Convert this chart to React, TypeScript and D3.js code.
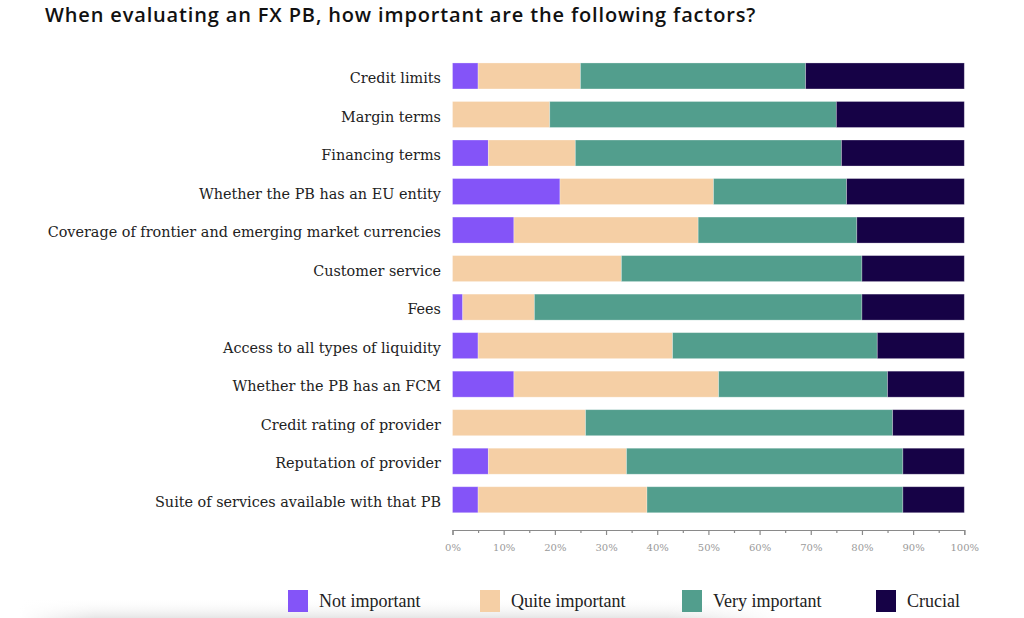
import React, { useEffect, useRef } from "react";
import * as d3 from "d3";

const title = "When evaluating an FX PB, how important are the following factors?";

const categories = [
  "Credit limits",
  "Margin terms",
  "Financing terms",
  "Whether the PB has an EU entity",
  "Coverage of frontier and emerging market currencies",
  "Customer service",
  "Fees",
  "Access to all types of liquidity",
  "Whether the PB has an FCM",
  "Credit rating of provider",
  "Reputation of provider",
  "Suite of services available with that PB",
];

const seriesNames = ["Not important", "Quite important", "Very important", "Crucial"];

const notImportant = [5, 0, 7, 21, 12, 0, 2, 5, 12, 0, 7, 5];
const quiteImportant = [20, 19, 17, 30, 36, 33, 14, 38, 40, 26, 27, 33];
const veryImportant = [44, 56, 52, 26, 31, 47, 64, 40, 33, 60, 54, 50];
const crucial = [31, 25, 24, 23, 21, 20, 20, 17, 15, 14, 12, 12];

const colors = ["#8454F8", "#F5CFA5", "#529E8D", "#160246"];

const majorTicks = [0, 10, 20, 30, 40, 50, 60, 70, 80, 90, 100];
const minorTicks = [5, 15, 25, 35, 45, 55, 65, 75, 85, 95];

const W = 1024;
const H = 618;

export default function App() {
  const axisRef = useRef<SVGGElement>(null);
  const minorRef = useRef<SVGGElement>(null);

  const x = d3.scaleLinear().domain([0, 100]).range([452.5, 964.3]);
  const y = d3
    .scaleBand<string>()
    .domain(categories)
    .range([56.7, 519.0])
    .paddingInner(0.325)
    .paddingOuter(0.1625);

  const table = categories.map((c, i) => ({
    category: c,
    "Not important": notImportant[i],
    "Quite important": quiteImportant[i],
    "Very important": veryImportant[i],
    Crucial: crucial[i],
  }));
  const stacked = d3.stack<any>().keys(seriesNames)(table);

  const axisY = 530;

  useEffect(() => {
    if (axisRef.current) {
      const axis = d3
        .axisBottom(x)
        .tickValues(majorTicks)
        .tickFormat((d) => `${d}%`)
        .tickSize(5)
        .tickSizeOuter(5)
        .tickPadding(9);
      const g = d3.select(axisRef.current);
      g.call(axis as any);
      g.select(".domain").attr("stroke", "#8a8a8a").attr("stroke-width", 1.2);
      g.selectAll(".tick line").attr("stroke", "#8a8a8a").attr("stroke-width", 1.2);
      g.selectAll(".tick text")
        .attr("fill", "#9a9a9a")
        .attr("font-size", 10)
        .attr("font-family", "'DejaVu Serif', serif");
    }
    if (minorRef.current) {
      const minor = d3
        .axisBottom(x)
        .tickValues(minorTicks)
        .tickFormat(() => "")
        .tickSize(3)
        .tickSizeOuter(0);
      const g2 = d3.select(minorRef.current);
      g2.call(minor as any);
      g2.select(".domain").remove();
      g2.selectAll(".tick line").attr("stroke", "#8a8a8a").attr("stroke-width", 1.2);
    }
  }, []);

  const legendX = [288, 480, 682, 876];

  return (
    <svg
      width={W}
      height={H}
      style={{ position: "absolute", left: 0, top: 0, background: "#fff" }}
    >
      <defs>
        <linearGradient id="shadowGrad" x1="0" y1="0" x2="0" y2="1">
          <stop offset="0" stopColor="#ffffff" stopOpacity="0" />
          <stop offset="1" stopColor="#e6e6e6" stopOpacity="1" />
        </linearGradient>
        <linearGradient id="shadowFadeH" x1="0" y1="0" x2="1" y2="0">
          <stop offset="0" stopColor="#fff" stopOpacity="1" />
          <stop offset="0.1" stopColor="#fff" stopOpacity="0" />
          <stop offset="0.85" stopColor="#fff" stopOpacity="0" />
          <stop offset="1" stopColor="#fff" stopOpacity="1" />
        </linearGradient>
      </defs>
      <rect x={20} y={598} width={760} height={20} fill="url(#shadowGrad)" />
      <rect x={20} y={598} width={760} height={20} fill="url(#shadowFadeH)" />

      <text
        x={45}
        y={22}
        fontFamily="'Open Sans', sans-serif"
        fontWeight={600}
        fontSize={20}
        letterSpacing={0.85}
        fill="#111"
      >
        {title}
      </text>

      {categories.map((c) => (
        <text
          key={c}
          x={441}
          y={(y(c) as number) + y.bandwidth() / 2 + 2}
          dy="0.35em"
          textAnchor="end"
          fontFamily="'DejaVu Serif', serif"
          fontSize={14.4}
          fill="#222"
        >
          {c}
        </text>
      ))}

      {stacked.map((s, si) => (
        <g key={s.key} fill={colors[si]}>
          {s.map((d, i) =>
            d[1] - d[0] > 0 ? (
              <rect
                key={i}
                x={x(d[0])}
                y={y(categories[i])}
                width={x(d[1]) - x(d[0])}
                height={y.bandwidth()}
                stroke="rgba(255,255,255,0.35)"
                strokeWidth={0.8}
              />
            ) : null
          )}
        </g>
      ))}

      <g ref={axisRef} transform={`translate(0,${axisY})`} />
      <g ref={minorRef} transform={`translate(0,${axisY})`} />

      {seriesNames.map((n, i) => (
        <g key={n}>
          <rect x={legendX[i]} y={590} width={20} height={22} fill={colors[i]} />
          <text
            x={legendX[i] + 31}
            y={601}
            dy="0.35em"
            fontFamily="'Liberation Serif', serif"
            fontSize={18}
            fill="#222"
          >
            {n}
          </text>
        </g>
      ))}
    </svg>
  );
}
